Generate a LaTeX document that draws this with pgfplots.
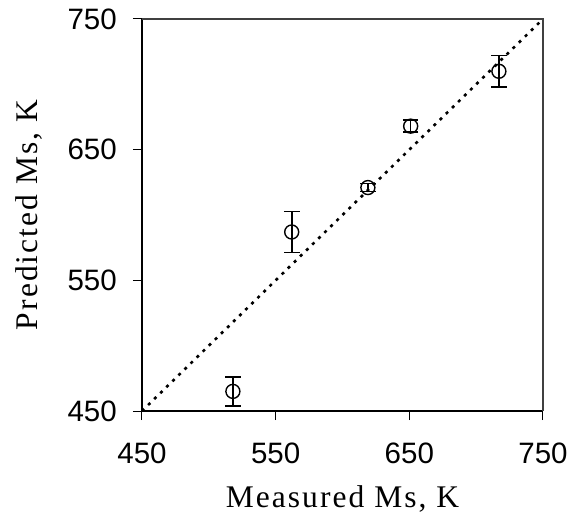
\documentclass[border=0pt]{standalone}
\usepackage{fontspec}
\setmainfont{Liberation Serif}
\newfontfamily\arial{Liberation Sans}
\usepackage{pgfplots}
\pgfplotsset{compat=1.18}
\begin{document}
\begin{tikzpicture}
\useasboundingbox (-142pt,-114pt) rectangle (434pt,411pt);
\begin{axis}[
  scale only axis,
  width=401pt, height=392pt,
  xmin=450, xmax=750, ymin=450, ymax=750,
  xtick={450,550,650,750}, ytick={450,550,650,750},
  axis x line*=bottom, axis y line*=left,
  tick align=outside,
  major tick length=9pt,
  tick style={line width=1pt, black},
  axis line style={line width=1.3pt, black},
  /pgf/number format/assume math mode=true,
  /pgf/number format/1000 sep={},
  ticklabel style={font=\arial\fontsize{29.5}{30}\selectfont},
  xticklabel style={anchor=north, inner sep=0pt, yshift=-23pt},
  yticklabel style={anchor=east, inner sep=0pt, xshift=-16pt},
  xlabel={Measured Ms, K},
  ylabel={Predicted Ms, K},
  every axis x label/.style={at={(axis description cs:0.5,-0.2449)}, anchor=base, font=\fontsize{31.5}{33}\selectfont\addfontfeatures{LetterSpace=6.5}},
  every axis y label/.style={at={(axis description cs:-0.2594,0.5)}, rotate=90, anchor=base, font=\fontsize{31.5}{33}\selectfont\addfontfeatures{LetterSpace=6.5}},
  clip=false,
]
\draw[line width=1.3pt, black!75] (axis cs:450,750) -- (axis cs:750,750) -- (axis cs:750,450);
\addplot[black, line width=2.6pt, dash pattern=on 3pt off 5.5pt] coordinates {(450,450) (750,750)};
\addplot[only marks, black, mark=o, mark size=7pt, mark options={line width=1.4pt},
  error bars/.cd, y dir=both, y explicit,
  error bar style={line width=1.6pt},
  error mark options={rotate=90, mark size=7.8pt, line width=1.6pt}]
  coordinates {
  (518,465) +- (0,11)
  (562,587) +- (0,15.7)
  (619,621) +- (0,3)
  (651,668) +- (0,4.5)
  (717,710) +- (0,12)
  };
\end{axis}
\end{tikzpicture}
\end{document}
